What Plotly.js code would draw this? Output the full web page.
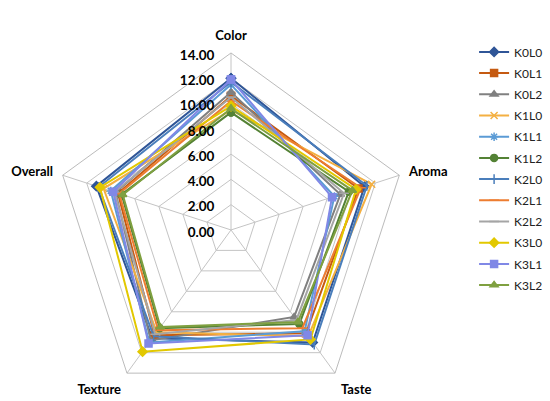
<!DOCTYPE html>
<html>
<head>
<meta charset="utf-8">
<script src="https://cdn.plot.ly/plotly-3.0.1.min.js"></script>
<style>
  html, body { margin: 0; padding: 0; overflow: hidden; background: #fff; }
</style>
</head>
<body>
<div id="grafico"></div>
<script>
// atributos evaluados (ejes del radar)
const categories = ['Color', 'Aroma', 'Taste', 'Texture', 'Overall'];

// puntuaciones de cada tratamiento, en el orden de categories
const K0L0 = [12.0, 11.1, 11.0, 10.6, 11.2];
const K0L1 = [10.6, 10.6, 10.1, 10.3, 9.4];
const K0L2 = [10.9, 9.1, 8.5, 10.8, 9.6];
const K1L0 = [9.5, 11.7, 10.4, 10.0, 10.6];
const K1L1 = [11.5, 8.6, 9.9, 11.0, 10.0];
const K1L2 = [9.3, 9.8, 9.2, 9.6, 9.1];
const K2L0 = [11.7, 11.3, 11.2, 10.4, 11.0];
const K2L1 = [10.2, 10.8, 9.6, 9.8, 9.3];
const K2L2 = [10.5, 9.4, 8.8, 10.2, 9.7];
const K3L0 = [9.8, 10.4, 10.7, 11.9, 10.9];
const K3L1 = [11.9, 8.4, 10.3, 11.1, 9.8];
const K3L2 = [9.6, 10.1, 9.0, 9.5, 9.0];

const seriesNames = ['K0L0', 'K0L1', 'K0L2', 'K1L0', 'K1L1', 'K1L2',
                     'K2L0', 'K2L1', 'K2L2', 'K3L0', 'K3L1', 'K3L2'];
const seriesValues = [K0L0, K0L1, K0L2, K1L0, K1L1, K1L2,
                      K2L0, K2L1, K2L2, K3L0, K3L1, K3L2];

// estilo tipo Excel
const colors = ['#2F5597', '#C55A11', '#808080', '#F4B042', '#5B9BD5', '#548235',
                '#4A7EBB', '#ED7D31', '#A5A5A5', '#E2C800', '#8088E6', '#7FA040'];
const symbols = ['diamond', 'square', 'triangle-up', 'x-thin-open', 'asterisk-open', 'circle',
                 'line-ns-open', 'line-ew-open', 'line-ew-open', 'diamond', 'square', 'triangle-up'];

const traces = seriesNames.map((name, i) => ({
    type: 'scatterpolar',
    mode: 'lines+markers',
    name: name,
    legendgroup: name,
    r: seriesValues[i].concat(seriesValues[i][0]),        // cerrar el polígono
    theta: categories.concat(categories[0]),
    line: { color: colors[i], width: 2 },
    marker: { symbol: symbols[i], size: 7, color: colors[i],
              line: { color: colors[i], width: 1.5 } }
}));

const layout = {
    width: 550,
    height: 420,
    margin: { l: 0, r: 0, t: 0, b: 0 },
    paper_bgcolor: '#fff',
    font: { family: 'Lato, "Liberation Sans", sans-serif', color: '#000' },
    showlegend: true,
    legend: {
        x: 0.862, y: 0.911, xanchor: 'left', yanchor: 'top',
        font: { size: 12, color: '#222' },
        tracegroupgap: 2.2,
        bgcolor: 'rgba(0,0,0,0)'
    },
    polar: {
        domain: { x: [0.0982, 0.7418], y: [0.031, 0.874] },
        gridshape: 'linear',
        bgcolor: '#fff',
        radialaxis: {
            range: [0, 14],
            dtick: 2,
            tickformat: '.2f',
            angle: 90,
            side: 'counterclockwise',
            showline: false,
            ticks: 'outside',
            ticklen: 4,
            tickcolor: 'rgba(0,0,0,0)',
            gridcolor: '#C4C4C4',
            tickfont: { size: 13.5, color: '#000', family: 'Lato', weight: 'bold' }
        },
        angularaxis: {
            rotation: 90,
            direction: 'clockwise',
            gridcolor: '#C4C4C4',
            linecolor: '#BBBBBB',
            ticks: 'outside',
            ticklen: 7,
            tickcolor: 'rgba(0,0,0,0)',
            tickfont: { size: 13, color: '#000', family: 'Lato', weight: 'bold' }
        }
    }
};

Plotly.newPlot('grafico', traces, layout, { displayModeBar: false });
</script>
</body>
</html>
